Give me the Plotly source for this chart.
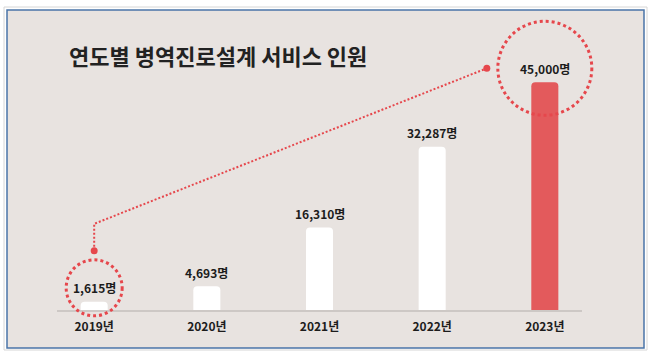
import plotly.graph_objects as go

# ---- data ----
years = ["2019년", "2020년", "2021년", "2022년", "2023년"]
values = [1615, 4693, 16310, 32287, 45000]
value_labels = ["1,615명", "4,693명", "16,310명", "32,287명", "45,000명"]
title_text = "연도별 병역진로설계 서비스 인원"
highlight = [0, 4]  # circled years (2019, 2023)

# ---- style / layout ----
W, H = 654, 357
ML, MR, MT, MB = 57, 72, 57, 47
PW, PH = W - ML - MR, H - MT - MB
XMIN, XMAX = -0.33, 4.33
YMAX = 50000
BG = "#E8E3E0"
RED_BAR = "#E35A5C"
RED_DOT = "#E6474C"
FONT = "Noto Sans CJK KR"

px_per_y = PH / YMAX
px_per_x = PW / (XMAX - XMIN)


def dy(px):
    return px / px_per_y


def dx(px):
    return px / px_per_x


def paper_x(px):
    return (px - ML) / PW


def paper_y(py):
    return (H - MB - py) / PH


def data_to_paper_x(x):
    return (x - XMIN) / (XMAX - XMIN)


def data_to_paper_y(y):
    return y / YMAX


xs = list(range(len(years)))
bar_colors = ["#FFFFFF"] * (len(years) - 1) + [RED_BAR]

fig = go.Figure()
fig.add_trace(go.Bar(
    x=xs, y=values, width=0.24,
    marker=dict(color=bar_colors, line=dict(width=0), cornerradius=4),
    hoverinfo="skip",
))

# value labels above bars
LABEL_OFF = 14  # px from bar top to label centre
for i, (v, t) in enumerate(zip(values, value_labels)):
    fig.add_annotation(
        x=xs[i], y=v, xref="x", yref="y", text=t, showarrow=False,
        yanchor="middle", yshift=LABEL_OFF,
        font=dict(family=FONT, size=12, color="#1C1C1C", weight="bold"),
    )

shapes = []
# outer light frame and blue inner frame
shapes.append(dict(type="rect", xref="paper", yref="paper", layer="below",
                   x0=paper_x(4), x1=paper_x(647), y0=paper_y(350), y1=paper_y(7),
                   line=dict(color="#D6D6D6", width=1), fillcolor="#FFFFFF"))
shapes.append(dict(type="rect", xref="paper", yref="paper", layer="below",
                   x0=paper_x(7), x1=paper_x(644), y0=paper_y(348), y1=paper_y(10),
                   line=dict(color="#4A74A8", width=1.5), fillcolor=BG))

# dotted circles around highlighted labels (paper-referenced so they are not clipped)
radii = {0: 28, 4: 47}
for i in highlight:
    r = radii[i]
    shapes.append(dict(
        type="circle", xref="paper", yref="paper",
        xsizemode="pixel", ysizemode="pixel",
        xanchor=data_to_paper_x(xs[i]), yanchor=data_to_paper_y(values[i]),
        x0=-r, x1=r, y0=LABEL_OFF - r, y1=LABEL_OFF + r,
        line=dict(color=RED_DOT, width=3, dash="3px,3px"),
    ))
fig.update_layout(shapes=shapes)

# connector between the two circles
a, b = highlight
ra, rb = radii[a], radii[b]
p1 = (xs[a], values[a] + dy(LABEL_OFF + ra + 9))
p2 = (xs[a], values[a] + dy(LABEL_OFF + ra + 9 + 27))
p3 = (xs[b] - dx(rb + 11), values[b] + dy(LABEL_OFF))
fig.add_trace(go.Scatter(
    x=[p1[0], p2[0], p3[0]], y=[p1[1], p2[1], p3[1]],
    mode="lines", line=dict(color=RED_DOT, width=2, dash="2px,2px"),
    hoverinfo="skip", cliponaxis=False,
))
fig.add_trace(go.Scatter(
    x=[p1[0], p3[0]], y=[p1[1], p3[1]], mode="markers",
    marker=dict(color=RED_DOT, size=7), hoverinfo="skip", cliponaxis=False,
))

fig.add_annotation(
    xref="paper", yref="paper", x=paper_x(67), y=paper_y(55),
    xanchor="left", yanchor="middle", showarrow=False, text=title_text,
    font=dict(family=FONT, size=22, color="#222222", weight="bold"),
)

fig.update_layout(
    width=W, height=H,
    margin=dict(l=ML, r=MR, t=MT, b=MB, pad=0),
    paper_bgcolor="#FFFFFF", plot_bgcolor="rgba(0,0,0,0)",
    showlegend=False,
    xaxis=dict(range=[XMIN, XMAX], tickvals=xs, ticktext=years,
               showgrid=False, zeroline=False, showline=True,
               linecolor="#CDC8C5", linewidth=2, ticks="",
               ticklabelstandoff=5, fixedrange=True,
               tickfont=dict(family=FONT, size=12, color="#1C1C1C", weight="bold")),
    yaxis=dict(range=[0, YMAX], visible=False, fixedrange=True),
)

fig.write_html("out.html", config={"displayModeBar": False},
               post_script="document.body.style.margin='0';")
